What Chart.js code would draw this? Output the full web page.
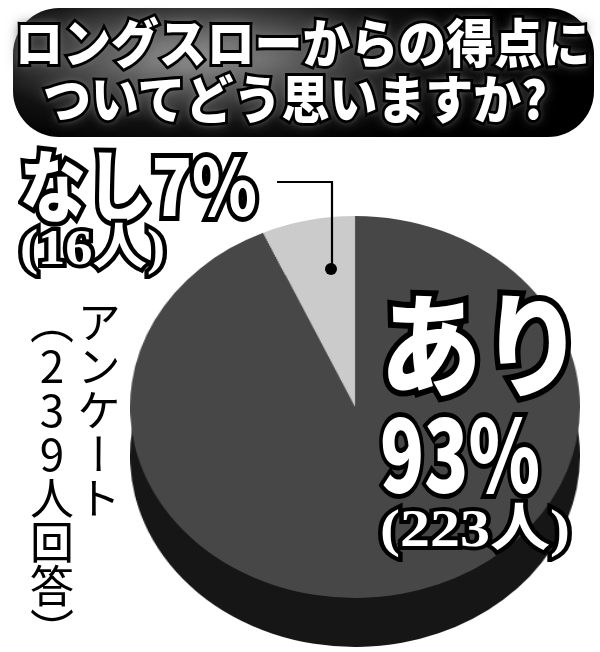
<!DOCTYPE html>
<html lang="ja">
<head>
<meta charset="utf-8">
<script src="https://cdn.jsdelivr.net/npm/chart.js@4.4.1/dist/chart.umd.min.js"></script>
<style>
  html, body { margin: 0; padding: 0; background: #fff; }
  #wrap { position: relative; width: 600px; height: 652px; overflow: hidden; font-family: "Noto Sans CJK JP", sans-serif; }
  .titleBox {
    position: absolute; left: 13px; top: 8px; width: 581px; height: 129px;
    border-radius: 46px;
    background: radial-gradient(ellipse 55% 75% at 32% 38%, #9c9c9c 0%, #4a4a4a 40%, #111 70%, #000 100%);
  }
  .pieBox { position: absolute; width: 382px; height: 382px; transform-origin: 50% 50%; }
  .lbl { position: absolute; white-space: nowrap; line-height: 1; transform-origin: 0 0; }
  .lbl span { display: block; white-space: nowrap; }
  .lbl .bk { position: absolute; left: 0; top: 0; color: #000; }
  .lbl .fg { position: relative; color: #fff; }
  #survey {
    position: absolute; left: 28px; top: 300px; height: 340px; width: 94px;
    writing-mode: vertical-rl; text-orientation: upright;
    font-size: 44px; line-height: 47px; font-weight: 400; color: #000;
  }
  #leader { position: absolute; left: 0; top: 0; }
</style>
</head>
<body>
<div id="wrap">
  <div class="titleBox"></div>
  <div class="pieBox" id="sideBox"><canvas id="side" width="382" height="382"></canvas></div>
  <div class="pieBox" id="topBox"><canvas id="top" width="382" height="382"></canvas></div>
  <svg id="leader" width="600" height="652"></svg>
  <div id="survey"></div>
</div>
<script>
// data
const labels = ["あり", "なし"];
const counts = [223, 16];
const percents = [93, 7];
const titleLines = ["ロングスローからの得点に", "ついてどう思いますか?"];
const surveyHead = "アンケート";

const total = counts.reduce((a, b) => a + b, 0);
const wrap = document.getElementById("wrap");

// pie face is an ellipse: canvas is round, then stretched sideways
const cx = 355, cy = 407, rx = 225, ry = 191, depth = 49;
const sideBox = document.getElementById("sideBox");
const topBox = document.getElementById("topBox");
[sideBox, topBox].forEach((b, i) => {
    b.style.left = (cx - ry) + "px";
    b.style.top = (cy - ry + (i === 0 ? depth : 0)) + "px";
    b.style.transform = `scaleX(${rx / ry})`;
});

function pieConfig(colors) {
    return {
        type: "pie",
        data: {
            labels: labels,
            datasets: [{ data: counts, backgroundColor: colors, borderWidth: 0, hoverOffset: 0, offset: 0 }]
        },
        options: {
            responsive: false,
            animation: false,
            events: [],
            layout: { padding: 0 },
            plugins: { legend: { display: false }, tooltip: { enabled: false } }
        }
    };
}
new Chart(document.getElementById("side"), pieConfig(["#161616", "#161616"]));
new Chart(document.getElementById("top"), pieConfig(["#474747", "#cbcbcb"]));

// outlined white text: black stroked copy behind a plain white copy
function label(text, o) {
    const d = document.createElement("div");
    d.className = "lbl";
    d.style.left = o.x + "px";
    d.style.top = o.y + "px";
    d.style.fontSize = o.size + "px";
    d.style.fontWeight = o.weight || 900;
    if (o.font) d.style.fontFamily = o.font;
    const bk = document.createElement("span");
    bk.className = "bk";
    bk.textContent = text;
    bk.style.webkitTextStroke = (o.sw * 2) + "px #000";
    if (o.glow) bk.style.textShadow = o.glow;
    const fg = document.createElement("span");
    fg.className = "fg";
    fg.textContent = text;
    d.appendChild(bk);
    d.appendChild(fg);
    wrap.appendChild(d);
    const w = fg.getBoundingClientRect().width;
    d.style.transform = `scaleX(${o.w / w})`;
    return d;
}

const glow = "0 0 8px #777, 0 0 14px #666";
label(titleLines[0], { x: 15, y: 15, size: 52, w: 575, sw: 3, glow: glow });
label(titleLines[1], { x: 43, y: 71, size: 52, w: 504, sw: 3, glow: glow });

const serif = '"Liberation Serif", "Noto Sans CJK JP", serif';
label(labels[1] + percents[1] + "%", { x: 20, y: 143, size: 78, w: 237, sw: 5 });
label("(" + counts[1] + "人)", { x: 20, y: 222, size: 50, w: 145, sw: 4, font: serif, weight: 700 });
label(labels[0], { x: 380, y: 283, size: 112, w: 203, sw: 6 });
label(percents[0] + "%", { x: 380, y: 400, size: 100, w: 160, sw: 5 });
label("(" + counts[0] + "人)", { x: 380, y: 503, size: 52, w: 190, sw: 4, font: serif, weight: 700 });

// vertical note
document.getElementById("survey").innerHTML = surveyHead + "<br>（" + total + "人回答）";

// leader from the small slice to its label
const svg = document.getElementById("leader");
svg.innerHTML =
    '<polyline points="277,182 332,182 332,268" fill="none" stroke="#000" stroke-width="2.2"/>' +
    '<circle cx="331" cy="269" r="6" fill="#000"/>';
</script>
</body>
</html>
